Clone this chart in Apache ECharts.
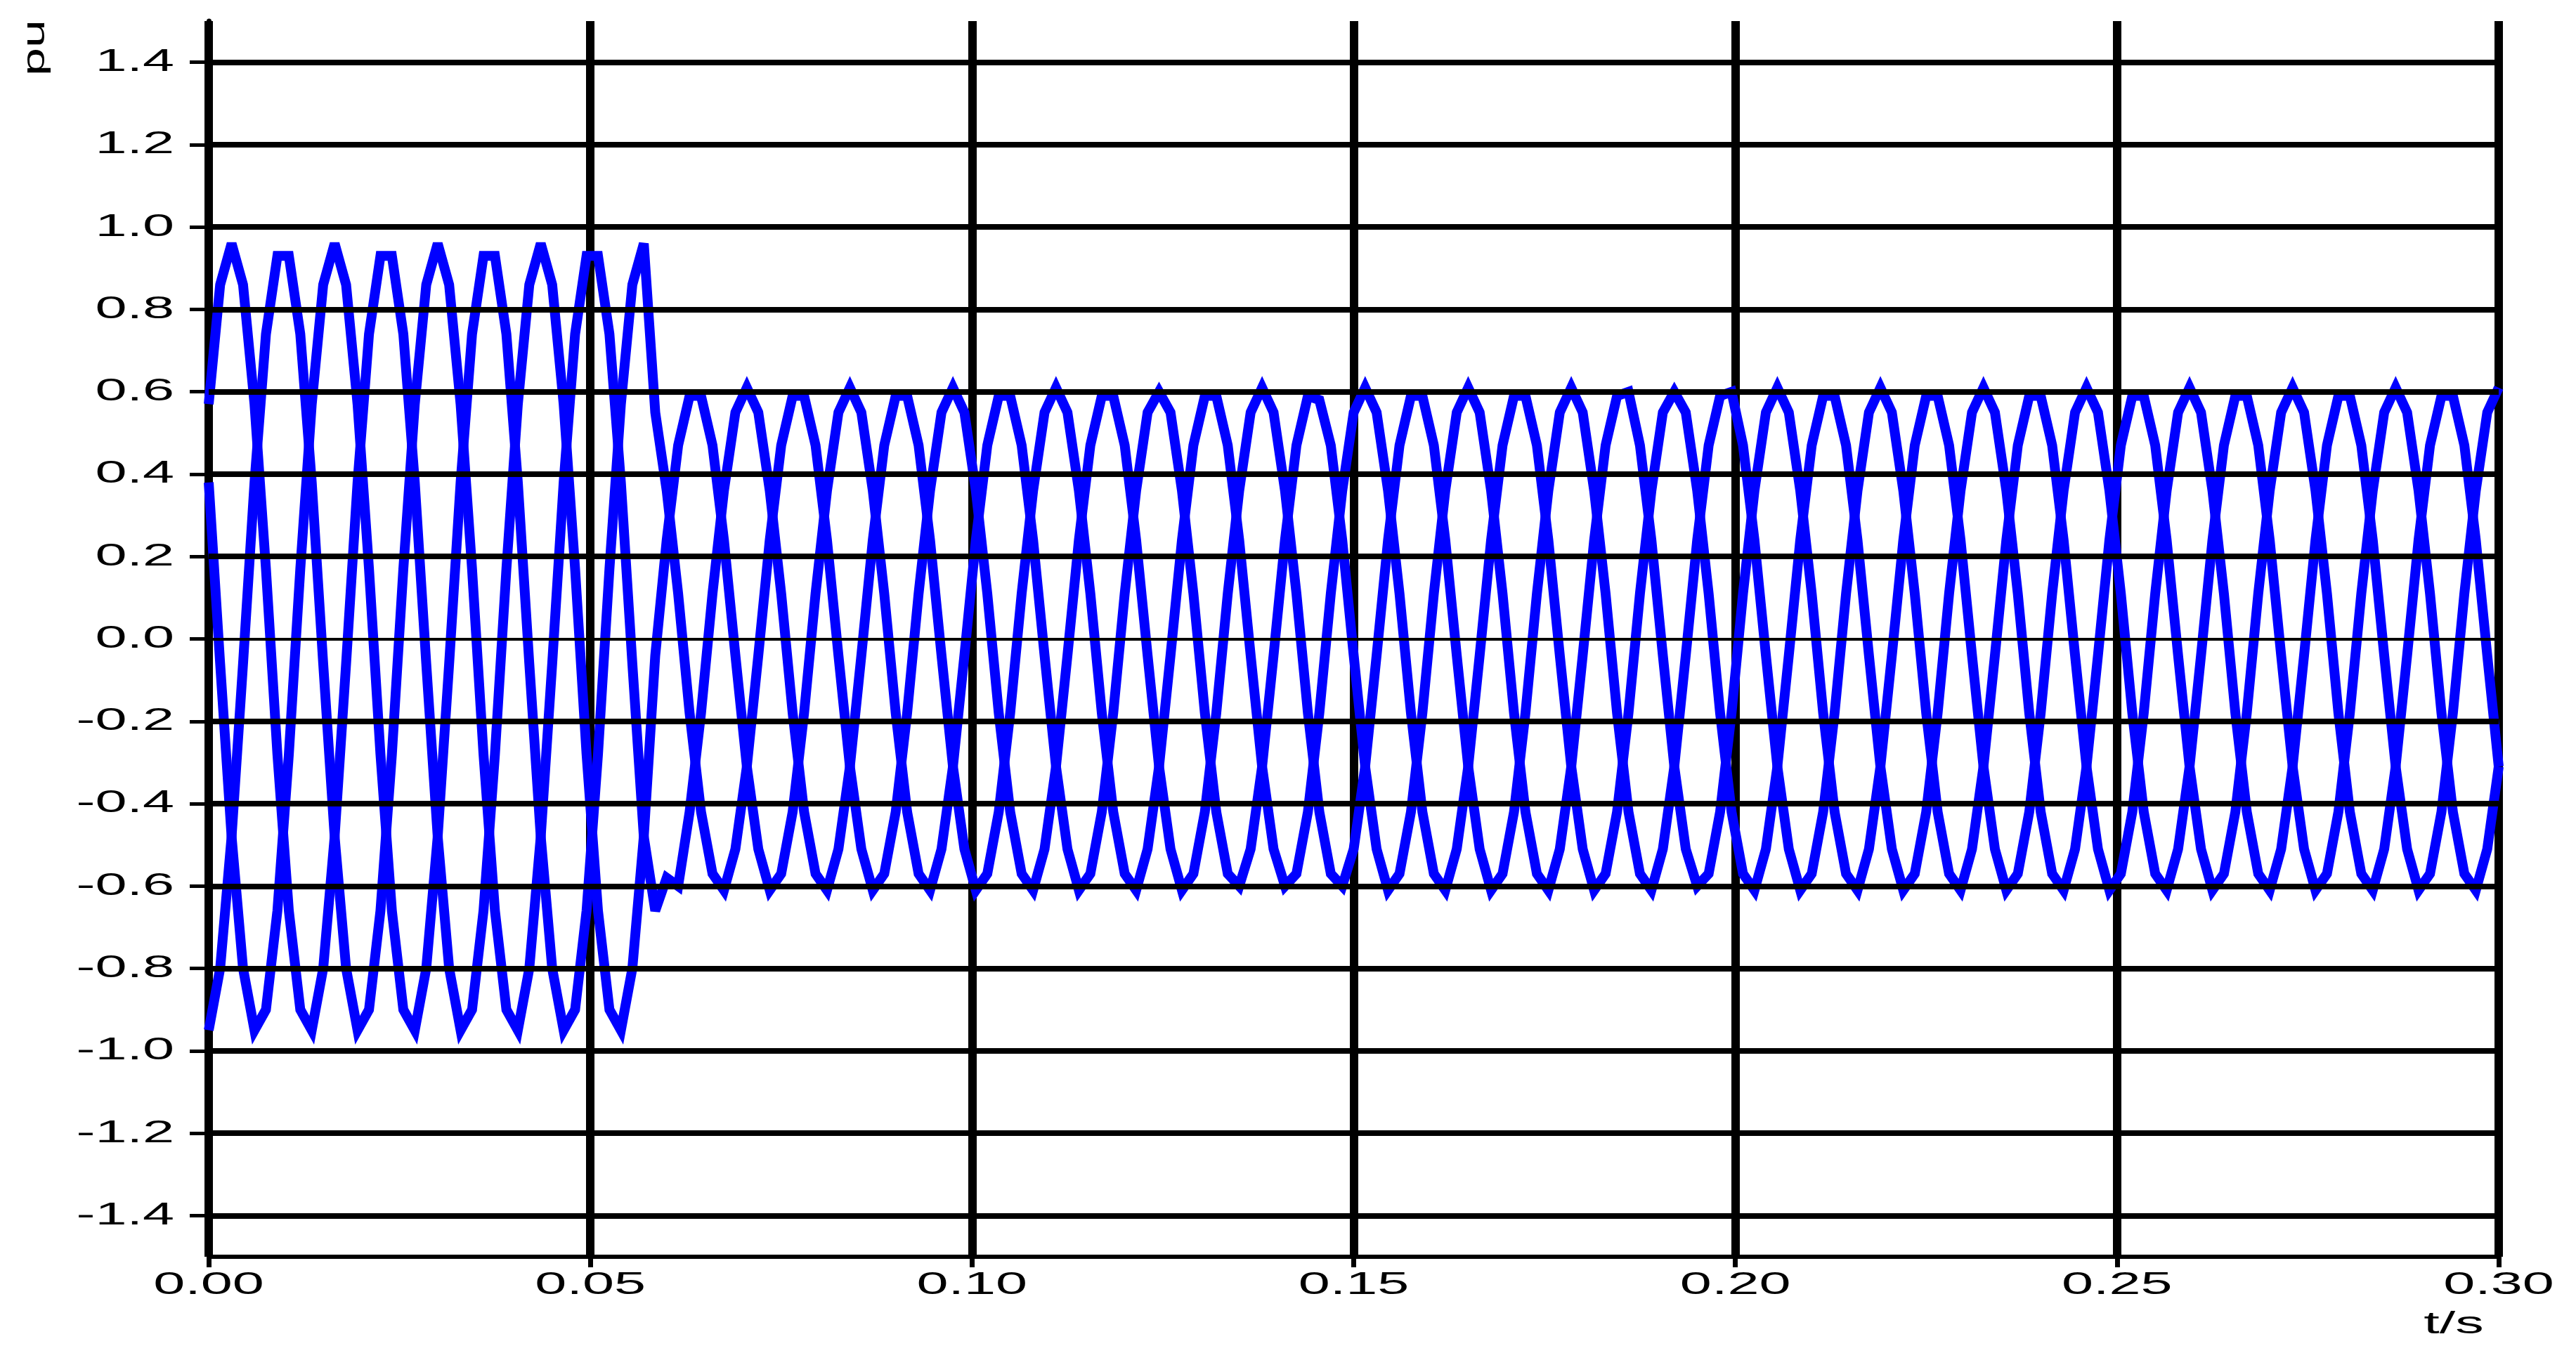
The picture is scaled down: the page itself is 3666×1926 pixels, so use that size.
<!DOCTYPE html>
<html>
<head>
<meta charset="utf-8">
<title>pu / t/s</title>
<script src="https://cdn.jsdelivr.net/npm/echarts@6.0.0/dist/echarts.min.js"></script>
<style>
  html, body { margin: 0; padding: 0; background: #fff; }
  #chart { width: 3666px; height: 1926px; }
</style>
</head>
<body>
<div id="chart"></div>
<script>
// sample instants (s), 1.5 ms apart
const time = [
  0,0.0015,0.003,0.0045,0.006,0.0075,0.009,0.0105,0.012,0.0135,
  0.015,0.0165,0.018,0.0195,0.021,0.0225,0.024,0.0255,0.027,0.0285,
  0.03,0.0315,0.033,0.0345,0.036,0.0375,0.039,0.0405,0.042,0.0435,
  0.045,0.0465,0.048,0.0495,0.051,0.0525,0.054,0.0555,0.057,0.0585,
  0.06,0.0615,0.063,0.0645,0.066,0.0675,0.069,0.0705,0.072,0.0735,
  0.075,0.0765,0.078,0.0795,0.081,0.0825,0.084,0.0855,0.087,0.0885,
  0.09,0.0915,0.093,0.0945,0.096,0.0975,0.099,0.1005,0.102,0.1035,
  0.105,0.1065,0.108,0.1095,0.111,0.1125,0.114,0.1155,0.117,0.1185,
  0.12,0.1215,0.123,0.1245,0.126,0.1275,0.129,0.1305,0.132,0.1335,
  0.135,0.1365,0.138,0.1395,0.141,0.1425,0.144,0.1455,0.147,0.1485,
  0.15,0.1515,0.153,0.1545,0.156,0.1575,0.159,0.1605,0.162,0.1635,
  0.165,0.1665,0.168,0.1695,0.171,0.1725,0.174,0.1755,0.177,0.1785,
  0.18,0.1815,0.183,0.1845,0.186,0.1875,0.189,0.1905,0.192,0.1935,
  0.195,0.1965,0.198,0.1995,0.201,0.2025,0.204,0.2055,0.207,0.2085,
  0.21,0.2115,0.213,0.2145,0.216,0.2175,0.219,0.2205,0.222,0.2235,
  0.225,0.2265,0.228,0.2295,0.231,0.2325,0.234,0.2355,0.237,0.2385,
  0.24,0.2415,0.243,0.2445,0.246,0.2475,0.249,0.2505,0.252,0.2535,
  0.255,0.2565,0.258,0.2595,0.261,0.2625,0.264,0.2655,0.267,0.2685,
  0.27,0.2715,0.273,0.2745,0.276,0.2775,0.279,0.2805,0.282,0.2835,
  0.285,0.2865,0.288,0.2895,0.291,0.2925,0.294,0.2955,0.297,0.2985,
  0.3
];

// phase voltages (pu)
const phaseA = [
  0.57,0.86,0.96,0.86,0.57,0.17,-0.28,-0.66,-0.90,-0.95,-0.80,-0.48,-0.06,0.38,0.74,0.93,0.93,0.74,0.38,-0.06,-0.48,-0.80,-0.95,-0.90,-0.66,-0.28,0.17,
  0.57,0.86,0.96,0.86,0.57,0.17,-0.28,-0.66,-0.90,-0.95,-0.80,-0.48,-0.04,0.24,0.47,0.59,0.59,0.47,0.24,-0.04,-0.31,-0.51,-0.61,-0.57,-0.42,-0.18,0.11,
  0.36,0.55,0.61,0.55,0.36,0.11,-0.18,-0.42,-0.57,-0.61,-0.51,-0.31,-0.04,0.24,0.47,0.59,0.59,0.47,0.24,-0.04,-0.31,-0.51,-0.61,-0.57,-0.42,-0.18,0.11,
  0.36,0.55,0.60,0.55,0.36,0.11,-0.18,-0.42,-0.57,-0.60,-0.51,-0.31,-0.04,0.24,0.47,0.59,0.58,0.47,0.24,-0.04,-0.31,-0.51,-0.61,-0.57,-0.42,-0.18,0.11,
  0.36,0.55,0.61,0.55,0.36,0.11,-0.18,-0.42,-0.57,-0.61,-0.51,-0.31,-0.04,0.24,0.47,0.59,0.60,0.47,0.24,-0.04,-0.31,-0.51,-0.60,-0.57,-0.42,-0.18,0.11,
  0.36,0.55,0.61,0.55,0.36,0.11,-0.18,-0.42,-0.57,-0.61,-0.51,-0.31,-0.04,0.24,0.47,0.59,0.59,0.47,0.24,-0.04,-0.31,-0.51,-0.61,-0.57,-0.42,-0.18,0.11,
  0.36,0.55,0.61,0.55,0.36,0.11,-0.18,-0.42,-0.57,-0.61,-0.51,-0.31,-0.04,0.24,0.47,0.59,0.59,0.47,0.24,-0.04,-0.31,-0.51,-0.61,-0.57,-0.42,-0.18,0.11,
  0.36,0.55,0.61,0.55,0.36,0.11,-0.18,-0.42,-0.57,-0.61,-0.51,-0.31
];

const phaseB = [
  -0.95,-0.80,-0.48,-0.06,0.38,0.74,0.93,0.93,0.74,0.38,-0.06,-0.48,-0.80,-0.95,-0.90,-0.66,-0.28,0.17,
  0.57,0.86,0.96,0.86,0.57,0.17,-0.28,-0.66,-0.90,-0.95,-0.80,-0.48,-0.06,0.38,0.74,0.93,0.93,0.74,0.38,-0.06,-0.48,
  -0.66,-0.58,-0.60,-0.42,-0.18,0.11,
  0.36,0.55,0.61,0.55,0.36,0.11,-0.18,-0.42,-0.57,-0.61,-0.51,-0.31,-0.04,0.24,0.47,0.59,0.59,0.47,0.24,-0.04,-0.31,-0.51,-0.61,-0.57,-0.42,-0.18,0.11,
  0.36,0.55,0.61,0.55,0.36,0.11,-0.18,-0.42,-0.57,-0.61,-0.51,-0.31,-0.04,0.24,0.47,0.59,0.59,0.47,0.24,-0.04,-0.31,-0.51,-0.60,-0.57,-0.42,-0.18,0.11,
  0.36,0.55,0.61,0.55,0.36,0.11,-0.18,-0.42,-0.57,-0.61,-0.51,-0.31,-0.04,0.24,0.47,0.59,0.59,0.47,0.24,-0.04,-0.31,-0.51,-0.61,-0.57,-0.42,-0.18,0.11,
  0.36,0.55,0.60,0.55,0.36,0.11,-0.18,-0.42,-0.57,-0.61,-0.51,-0.31,-0.04,0.24,0.47,0.59,0.59,0.47,0.24,-0.04,-0.31,-0.51,-0.61,-0.57,-0.42,-0.18,0.11,
  0.36,0.55,0.61,0.55,0.36,0.11,-0.18,-0.42,-0.57,-0.61,-0.51,-0.31,-0.04,0.24,0.47,0.59,0.59,0.47,0.24,-0.04,-0.31,-0.51,-0.61,-0.57,-0.42,-0.18,0.11,
  0.36,0.55,0.61,0.55,0.36,0.11,-0.18,-0.42,-0.57,-0.61,-0.51,-0.31,-0.04,0.24,0.47,0.59,0.59,0.47,0.24,-0.04,-0.31
];

const phaseC = [
  0.38,-0.06,-0.48,-0.80,-0.95,-0.90,-0.66,-0.28,0.17,
  0.57,0.86,0.96,0.86,0.57,0.17,-0.28,-0.66,-0.90,-0.95,-0.80,-0.48,-0.06,0.38,0.74,0.93,0.93,0.74,0.38,-0.06,-0.48,-0.80,-0.95,-0.90,-0.66,-0.28,0.17,
  0.57,0.86,0.96,
  0.55,0.36,0.11,-0.18,-0.42,-0.57,-0.61,-0.51,-0.31,-0.04,0.24,0.47,0.59,0.59,0.47,0.24,-0.04,-0.31,-0.51,-0.61,-0.57,-0.42,-0.18,0.11,
  0.36,0.55,0.61,0.55,0.36,0.11,-0.18,-0.42,-0.57,-0.61,-0.51,-0.31,-0.04,0.24,0.47,0.59,0.59,0.47,0.24,-0.04,-0.31,-0.51,-0.61,-0.57,-0.42,-0.18,0.11,
  0.36,0.55,0.61,0.55,0.36,0.11,-0.18,-0.42,-0.57,-0.60,-0.51,-0.31,-0.04,0.24,0.47,0.59,0.59,0.47,0.24,-0.04,-0.31,-0.51,-0.61,-0.57,-0.42,-0.18,0.11,
  0.36,0.55,0.61,0.55,0.36,0.11,-0.18,-0.42,-0.57,-0.61,-0.51,-0.31,-0.04,0.24,0.47,0.59,0.60,0.47,0.24,-0.04,-0.31,-0.51,-0.61,-0.57,-0.42,-0.18,0.11,
  0.36,0.55,0.61,0.55,0.36,0.11,-0.18,-0.42,-0.57,-0.61,-0.51,-0.31,-0.04,0.24,0.47,0.59,0.59,0.47,0.24,-0.04,-0.31,-0.51,-0.61,-0.57,-0.42,-0.18,0.11,
  0.36,0.55,0.61,0.55,0.36,0.11,-0.18,-0.42,-0.57,-0.61,-0.51,-0.31,-0.04,0.24,0.47,0.59,0.59,0.47,0.24,-0.04,-0.31,-0.51,-0.61,-0.57,-0.42,-0.18,0.11,
  0.36,0.55,0.61
];

const xTicks = [0, 0.05, 0.1, 0.15, 0.2, 0.25, 0.3];
const xLabels = ['0.00', '0.05', '0.10', '0.15', '0.20', '0.25', '0.30'];
const yTicks = [-1.4, -1.2, -1.0, -0.8, -0.6, -0.4, -0.2, 0, 0.2, 0.4, 0.6, 0.8, 1.0, 1.2, 1.4];
const yLabels = ['-1.4', '-1.2', '-1.0', '-0.8', '-0.6', '-0.4', '-0.2', '0.0', '0.2', '0.4', '0.6', '0.8', '1.0', '1.2', '1.4'];

[phaseA, phaseB, phaseC].forEach((p, i) => {
  if (p.length !== time.length) console.warn('phase', i, 'has', p.length, 'points, expected', time.length);
});

const LABEL_FONT = '45px "Liberation Sans", Arial, sans-serif';
const STRETCH = 1.8;   // the original lettering is drawn very wide

const chart = echarts.init(document.getElementById('chart'));

const toPairs = (vals) => time.map((t, i) => [t, vals[i]]);

const phaseSeries = (name, vals) => ({
  name,
  type: 'line',
  data: toPairs(vals),
  symbol: 'none',
  showSymbol: false,
  smooth: false,
  silent: true,
  z: 3,
  lineStyle: { color: '#0000ff', width: 14, join: 'miter', miterLimit: 3 }
});

chart.setOption({
  animation: false,
  backgroundColor: '#ffffff',
  grid: { left: 297, right: 110, top: 30, bottom: 137 },
  xAxis: {
    type: 'value',
    min: 0,
    max: 0.3,
    interval: 0.05,
    axisLine: { show: true, onZero: false, lineStyle: { color: '#000', width: 6 } },
    axisTick: { show: true, length: 15, lineStyle: { color: '#000', width: 7 } },
    axisLabel: { show: false },
    splitLine: { show: true, lineStyle: { color: '#000', width: 12 } }
  },
  yAxis: {
    type: 'value',
    min: -1.5,
    max: 1.5,
    axisLine: { show: true, onZero: false, lineStyle: { color: '#000', width: 7 } },
    axisTick: { show: true, length: 27, customValues: yTicks, lineStyle: { color: '#000', width: 5 } },
    axisLabel: { show: false, customValues: yTicks },
    splitLine: { show: false }
  },
  series: [
    {
      name: 'grid',
      type: 'line',
      data: [],
      silent: true,
      z: 1,
      markLine: {
        silent: true,
        symbol: 'none',
        animation: false,
        label: { show: false },
        lineStyle: { color: '#000', width: 8, type: 'solid' },
        data: yTicks.map(v => v === 0
          ? { yAxis: v, lineStyle: { color: '#000', width: 4, type: 'solid' } }
          : { yAxis: v })
      }
    },
    phaseSeries('A', phaseA),
    phaseSeries('B', phaseB),
    phaseSeries('C', phaseC)
  ]
});

// tick labels are placed from the axis scales, stretched sideways like the original
const axisX = chart.convertToPixel({ xAxisIndex: 0 }, 0);
const axisY = chart.convertToPixel({ yAxisIndex: 0 }, -1.5);

const textEl = (text, x, y, align, extra) => Object.assign({
  type: 'text',
  x, y,
  scaleX: STRETCH,
  silent: true,
  z: 10,
  style: {
    text,
    font: LABEL_FONT,
    fill: '#000',
    align, verticalAlign: 'middle',
    textAlign: align, textVerticalAlign: 'middle'
  }
}, extra || {});

const labels = [];
yTicks.forEach((v, i) => {
  labels.push(textEl(yLabels[i], axisX - 49, chart.convertToPixel({ yAxisIndex: 0 }, v), 'right'));
});
xTicks.forEach((v, i) => {
  labels.push(textEl(xLabels[i], chart.convertToPixel({ xAxisIndex: 0 }, v), axisY + 41, 'center'));
});
labels.push(textEl('t/s', 3492, 1886, 'center'));
labels.push(textEl('pu', 51, 68, 'center', { rotation: Math.PI / 2, scaleX: 1.6 }));

chart.setOption({ graphic: { elements: labels } });
</script>
</body>
</html>
